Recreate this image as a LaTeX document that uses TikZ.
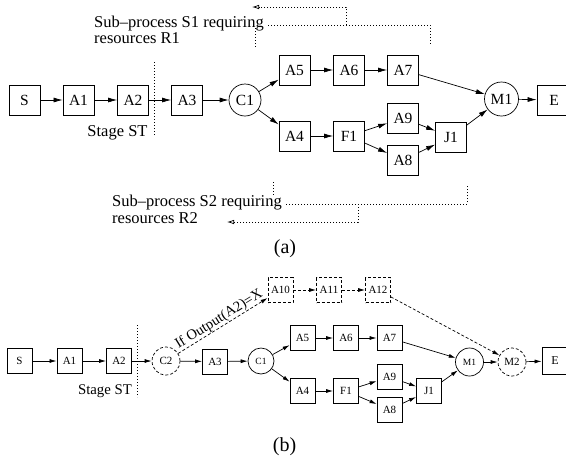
\documentclass[tikz,border=0pt]{standalone}
\usepackage{fontspec}
\setmainfont{Liberation Serif}
\usetikzlibrary{arrows.meta}
\newcommand{\fsz}[1]{\fontsize{#1}{#1}\selectfont}
\tikzset{
  boxa/.style={draw, line width=0.8pt, minimum width=31pt, minimum height=30pt, inner sep=0pt, font=\fsz{15.5}},
  circa/.style={draw, circle, line width=0.7pt, minimum size=32pt, inner sep=0pt, font=\fsz{15.5}},
  boxb/.style={draw, line width=0.8pt, minimum width=25pt, minimum height=25pt, inner sep=0pt, font=\fsz{11}},
  circb/.style={draw, circle, line width=0.7pt, minimum size=27pt, inner sep=0pt, font=\fsz{9.5}},
  dsh/.style={dash pattern=on 3pt off 2pt},
  arra/.style={line width=0.7pt, -{Latex[length=9pt,width=5pt]}},
  arrb/.style={line width=0.7pt, -{Latex[length=7pt,width=4pt]}},
  dotl/.style={line width=0.7pt, dash pattern=on 0.7pt off 2.3pt},
  note/.style={inner sep=0pt, font=\fsz{16.5}},
}
\begin{document}
\begin{tikzpicture}[x=1pt,y=-1pt]
\useasboundingbox (0,0) rectangle (566,459);
% ---------- (a) ----------
\node[boxa] (aS) at (24.5,100) {S};
\node[boxa] (aA1) at (78.5,100) {A1};
\node[boxa] (aA2) at (133,100) {A2};
\node[boxa] (aA3) at (187,100) {A3};
\node[circa] (aC1) at (245,100) {C1};
\node[boxa] (aA5) at (294.5,70) {A5};
\node[boxa] (aA6) at (349,70) {A6};
\node[boxa] (aA7) at (403,70) {A7};
\node[boxa] (aA4) at (294.5,136) {A4};
\node[boxa] (aF1) at (349,136) {F1};
\node[boxa] (aA9) at (403,118) {A9};
\node[boxa] (aA8) at (403,160) {A8};
\node[boxa] (aJ1) at (451,137) {J1};
\node[circa, minimum size=34pt] (aM1) at (501.5,99) {M1};
\node[boxa, minimum width=34pt] (aE) at (554,100) {E};
\foreach \a/\b in {aS/aA1,aA1/aA2,aA2/aA3,aA3/aC1,aC1/aA5,aC1/aA4,aA5/aA6,aA6/aA7,aA7/aM1,aA4/aF1,aF1/aA9,aF1/aA8,aA9/aJ1,aA8/aJ1,aJ1/aM1,aM1/aE}
  \draw[arra] (\a) -- (\b);
% stage line
\draw[dotl] (154,62) -- (154,135);
\node[note] (aST) at (117.5,133) {Stage ST};
% sub-process S1
\node[note, anchor=base west] (s1a) at (94,27) {Sub\textendash process S1 requiring};
\node[note, anchor=base west] (s1b) at (94,43.5) {resources R1};
\draw[dotl] (268,25) -- (430,25) -- (430,45);
\draw[dotl] (255,28) -- (255,48);
\coordinate (s1t) at (252,7);
\draw[dotl, -{Latex[open,length=7pt,width=4.5pt]}] (346,25) -- (346,7) -- (s1t);
% sub-process S2
\node[note, anchor=base west] (s2a) at (112,206) {Sub\textendash process S2 requiring};
\node[note, anchor=base west] (s2b) at (112,223) {resources R2};
\draw[dotl] (273,182) -- (273,196);
\draw[dotl] (286,204) -- (467,204) -- (467,185);
\coordinate (s2t) at (227,222);
\draw[dotl, -{Latex[open,length=7pt,width=4.5pt]}] (358,204) -- (358,222) -- (s2t);
\node[font=\fsz{20}, inner sep=0pt] (la) at (285,249) {(a)};
% ---------- (b) ----------
\node[boxb] (bS) at (19.5,361) {S};
\node[boxb] (bA1) at (69.5,361) {A1};
\node[boxb] (bA2) at (119,361) {A2};
\node[circb, dsh, minimum size=28pt, font=\fsz{11}] (bC2) at (166,361) {C2};
\node[boxb] (bA3) at (215,361.5) {A3};
\node[circb, minimum size=26pt] (bC1) at (261,361) {C1};
\node[boxb, dsh] (bA10) at (280.5,290) {A10};
\node[boxb, dsh] (bA11) at (329,290) {A11};
\node[boxb, dsh] (bA12) at (378,290) {A12};
\node[boxb] (bA5) at (302.5,338) {A5};
\node[boxb] (bA6) at (346,338) {A6};
\node[boxb] (bA7) at (389.5,338) {A7};
\node[boxb] (bA4) at (302.5,391) {A4};
\node[boxb] (bF1) at (346,391) {F1};
\node[boxb] (bA9) at (389.5,377) {A9};
\node[boxb] (bA8) at (389.5,409.5) {A8};
\node[boxb] (bJ1) at (429,391) {J1};
\node[circb, minimum size=28pt] (bM1) at (469.5,362) {M1};
\node[circb, dsh, minimum size=28pt, font=\fsz{11}] (bM2) at (512,362) {M2};
\node[boxb, minimum width=26pt, minimum height=27pt, font=\fsz{12}] (bE) at (555,361) {E};
\foreach \a/\b in {bS/bA1,bA1/bA2,bA2/bC2,bC2/bA3,bA3/bC1,bC1/bA5,bC1/bA4,bA5/bA6,bA6/bA7,bA7/bM1,bA4/bF1,bF1/bA9,bF1/bA8,bA9/bJ1,bA8/bJ1,bJ1/bM1,bM1/bM2,bM2/bE}
  \draw[arrb] (\a) -- (\b);
\draw[arrb, dsh] (bC2) -- node[sloped, above=-3pt, font=\fsz{14.5}] {If Output(A2)=X} (bA10);
\draw[arrb, dsh] (bA10) -- (bA11);
\draw[arrb, dsh] (bA11) -- (bA12);
\draw[arrb, dsh] (bA12) -- (bM2);
\draw[dotl] (137,325) -- (137,397);
\node[note, font=\fsz{14.8}] (bST) at (105,391) {Stage ST};
\node[font=\fsz{20}, inner sep=0pt] (lb) at (284.5,447) {(b)};
\end{tikzpicture}
\end{document}
